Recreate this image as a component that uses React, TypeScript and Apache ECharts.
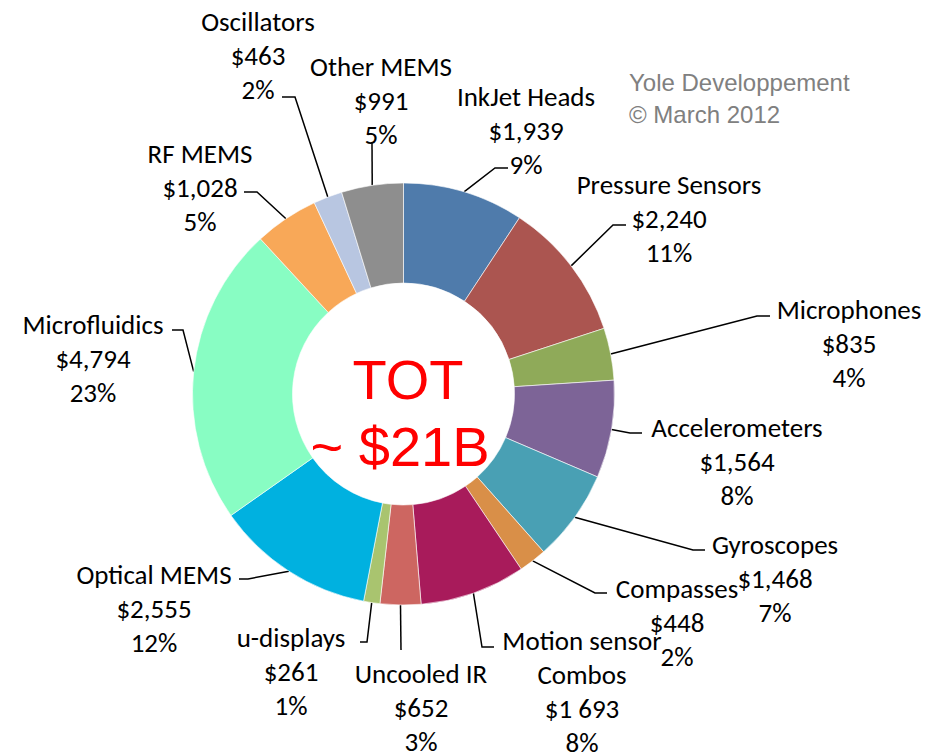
import React, { useEffect, useRef } from "react";
import * as echarts from "echarts";

const categories = [
  "InkJet Heads",
  "Pressure Sensors",
  "Microphones",
  "Accelerometers",
  "Gyroscopes",
  "Compasses",
  "Motion sensor\nCombos",
  "Uncooled IR",
  "u-displays",
  "Optical MEMS",
  "Microfluidics",
  "RF MEMS",
  "Oscillators",
  "Other MEMS",
];
const values = [1939, 2240, 835, 1564, 1468, 448, 1693, 652, 261, 2555, 4794, 1028, 463, 991];
const valueLabels = ["$1,939", "$2,240", "$835", "$1,564", "$1,468", "$448", "$1 693", "$652", "$261", "$2,555", "$4,794", "$1,028", "$463", "$991"];
const percentLabels = ["9%", "11%", "4%", "8%", "7%", "2%", "8%", "3%", "1%", "12%", "23%", "5%", "2%", "5%"];
const colors = [
  "#4F7BAB", "#AB5550", "#8FAA59", "#7D6497", "#49A0B4", "#D98F48", "#A81B5B",
  "#CD6661", "#A9C46F", "#00B1E0", "#88FDC3", "#F8A858", "#B8C6E1", "#8E8E8E",
];

// label layout (block centre, leader elbow, leader end)
const labelPos: [number, number][] = [
  [526, 130], [669, 218], [849, 343], [737, 461], [775, 578], [677, 622], [582, 691],
  [421, 707], [291, 671], [154, 608], [93, 358], [200, 187], [258, 55], [381, 100],
];
const leaderElbow: [number, number][] = [
  [495, 168], [613, 225], [757, 316], [630, 433], [693, 550], [595, 593], [482, 647],
  [401, 650], [367, 642], [248, 579], [183, 330], [257, 192], [295, 97], [372, 143],
];
const leaderEnd: [number, number][] = [
  [508, 168], [626, 225], [770, 316], [642, 433], [705, 550], [607, 593], [494, 647],
  [401, 650], [360, 642], [239, 579], [172, 330], [244, 192], [282, 97], [372, 143],
];

const CX = 403.5;
const CY = 394;
const R_OUT = 211;
const R_IN = 111;

export default function App() {
  const ref = useRef<HTMLDivElement>(null);
  useEffect(() => {
    if (!ref.current) return;
    const chart = echarts.init(ref.current, undefined, { renderer: "svg" });
    const total = values.reduce((a, b) => a + b, 0);
    const startPoint = (i: number): number[] => {
      let cum = 0;
      for (let k = 0; k < i; k++) cum += values[k];
      const mid = ((cum + values[i] / 2) / total) * Math.PI * 2;
      return [CX + R_OUT * Math.sin(mid), CY - R_OUT * Math.cos(mid)];
    };
    chart.setOption({
      animation: false,
      backgroundColor: "#ffffff",
      graphic: [
        {
          type: "text",
          left: 629,
          top: 66,
          style: {
            text: "Yole Developpement\n© March 2012",
            fill: "#808080",
            font: '24px "Liberation Sans", Arial, sans-serif',
            lineHeight: 32,
          },
        },
        {
          type: "text",
          x: 408,
          y: 379,
          style: {
            text: "TOT",
            fill: "#FF0000",
            font: '56px "Liberation Sans", Arial, sans-serif',
            align: "center",
            verticalAlign: "middle",
          },
        },
        {
          type: "text",
          x: 400,
          y: 446,
          style: {
            text: "~ $21B",
            fill: "#FF0000",
            font: '56px "Liberation Sans", Arial, sans-serif',
            align: "center",
            verticalAlign: "middle",
          },
        },
      ],
      series: [
        {
          type: "pie",
          center: [CX, CY],
          radius: [R_IN, R_OUT],
          startAngle: 90,
          clockwise: true,
          avoidLabelOverlap: false,
          itemStyle: { borderColor: "#ffffff", borderWidth: 0.6 },
          emphasis: { disabled: true },
          label: {
            show: true,
            position: "outside",
            color: "#000000",
            fontFamily: 'Carlito, Calibri, Lato, sans-serif',
            fontSize: 27,
            lineHeight: 34,
            align: "center",
            formatter: (p: any) =>
              `${p.name}\n${valueLabels[p.dataIndex]}\n${percentLabels[p.dataIndex]}`,
          },
          labelLine: {
            show: true,
            length: 10,
            length2: 10,
            lineStyle: { color: "#000000", width: 1.5 },
          },
          labelLayout: (params: any) => {
            const i = params.dataIndex;
            const pts = params.labelLinePoints;
            const s = pts && pts[0] ? pts[0] : startPoint(i);
            return {
              x: labelPos[i][0],
              y: labelPos[i][1],
              align: "center",
              verticalAlign: "middle",
              labelLinePoints: [s, leaderElbow[i], leaderEnd[i]],
            };
          },
          data: categories.map((name, i) => ({
            name,
            value: values[i],
            itemStyle: { color: colors[i] },
          })),
        },
      ],
    });
    return () => chart.dispose();
  }, []);
  return (
    <div
      ref={ref}
      style={{ position: "absolute", left: 0, top: 0, width: 944, height: 752 }}
    />
  );
}
